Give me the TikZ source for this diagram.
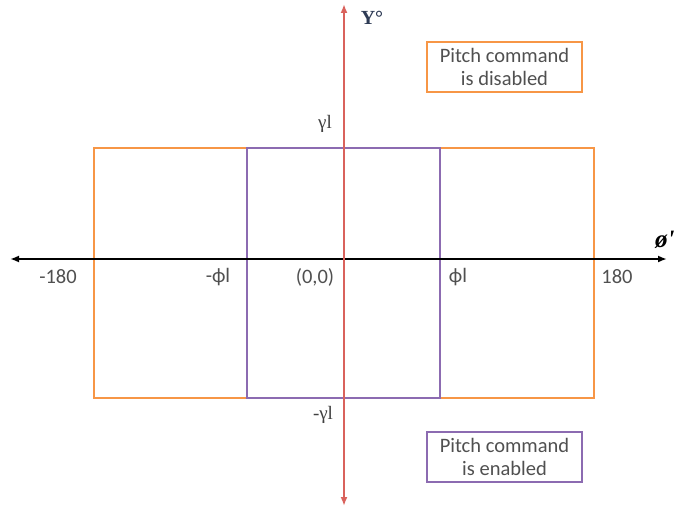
\documentclass[tikz,border=0pt]{standalone}
\usepackage{fontspec}
\setmainfont{Carlito}
\newfontfamily\serifgreek{Liberation Serif}
\usetikzlibrary{arrows.meta}
\definecolor{boxorange}{HTML}{F79646}
\definecolor{boxpurple}{HTML}{8C6BB1}
\definecolor{axisred}{HTML}{D9625C}
\definecolor{labelgray}{HTML}{505050}
\definecolor{axisname}{HTML}{2E3B55}
\begin{document}
\begin{tikzpicture}[x=1pt,y=-1pt,
  lbl/.style={text=labelgray,font=\fontsize{20.5}{22}\selectfont,inner sep=0pt},
  glbl/.style={text=labelgray!80!black,font=\serifgreek\fontsize{19}{21}\selectfont,inner sep=0pt},
  note/.style={draw=#1,line width=1.5pt,text=labelgray,align=center,
    font=\fontsize{20.5}{23}\selectfont,minimum width=155pt,minimum height=50pt,inner sep=0pt},
  region/.style={line width=1.8pt},
  tip/.style={{Latex[length=9pt,width=7pt]}-{Latex[length=9pt,width=7pt]}}]
\useasboundingbox (0,0) rectangle (675,508);
% operating regions
\draw[region,boxorange] (94,148) rectangle (594,398);
\draw[region,boxpurple] (247,148) rectangle (440,398);
% axes
\coordinate (xl) at (10,259);
\coordinate (xr) at (667,259);
\coordinate (yt) at (344,4);
\coordinate (yb) at (344,506);
\draw[line width=2pt,black,tip] (xl) -- (xr);
\draw[line width=2pt,axisred,tip] (yb) -- (yt);
% axis names
\node[text=axisname,font=\serifgreek\bfseries\fontsize{20}{22}\selectfont,inner sep=0pt] (yname) at (372,18) {Y°};
\node[text=black,font=\serifgreek\bfseries\itshape\fontsize{25}{27}\selectfont,inner sep=0pt,anchor=west] (xname) at (655,240) {ø'};
% tick labels
\node[lbl] (m180) at (58,277) {-180};
\node[lbl] (p180) at (617,277) {180};
\node[lbl] (mphi) at (218,277) {-ϕl};
\node[lbl] (orig) at (315,277) {(0,0)};
\node[lbl] (pphi) at (458,277) {ϕl};
\node[glbl] (pgam) at (325,124) {γl};
\node[glbl] (mgam) at (323,415) {-γl};
% legend notes
\node[note=boxorange] (dis) at (504.5,67) {Pitch command\\is disabled};
\node[note=boxpurple] (ena) at (504.5,457) {Pitch command\\is enabled};
\end{tikzpicture}
\end{document}
